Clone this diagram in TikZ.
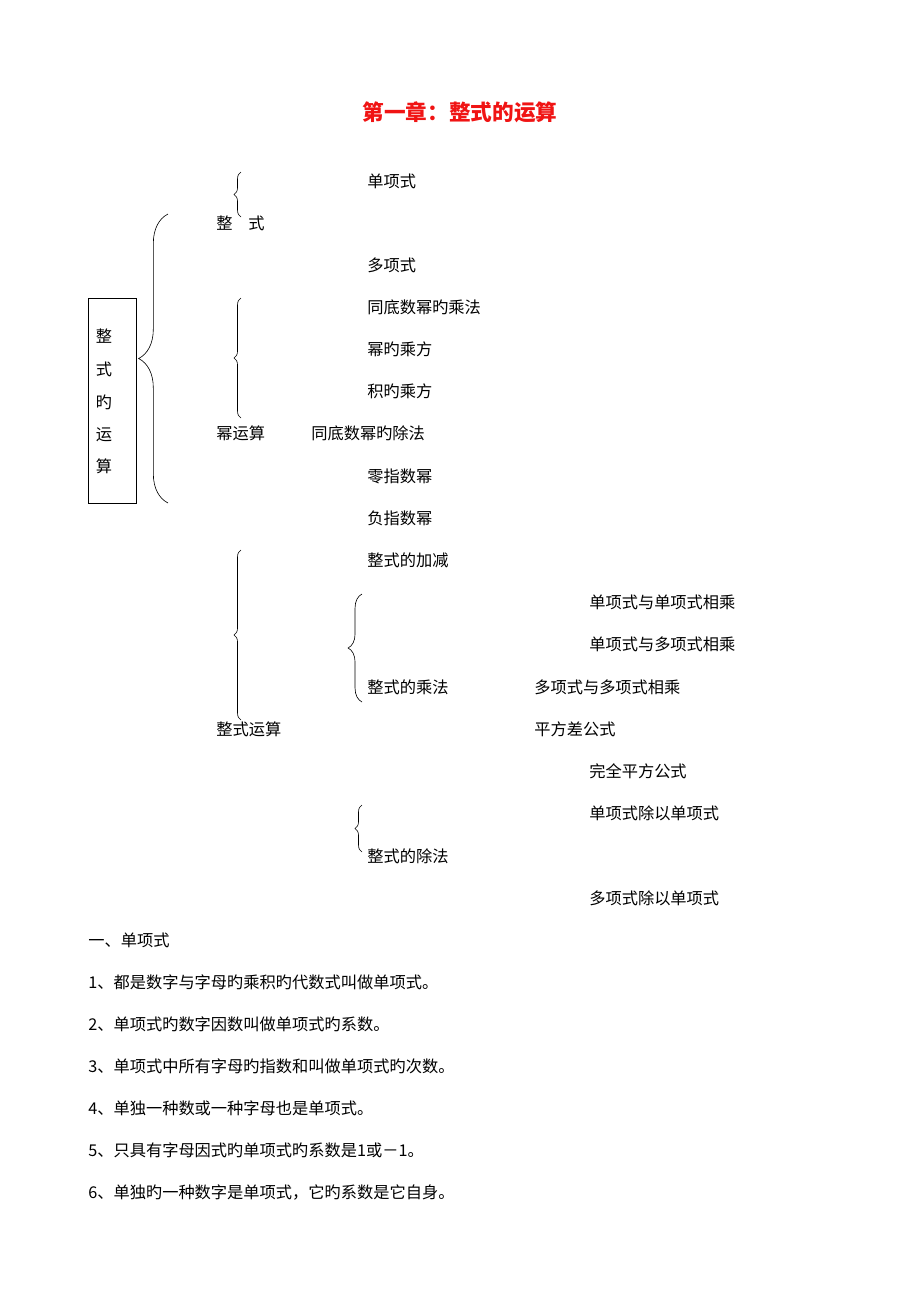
\documentclass[tikz,border=0pt]{standalone}
\usepackage{fontspec}
\setmainfont{Noto Sans CJK SC}
\usepackage{xcolor}
\usepackage{tikz}
\usetikzlibrary{positioning,calc,decorations.pathreplacing}
\definecolor{TitleRed}{RGB}{240,20,20}
\tikzset{
    item/.style={anchor=west, inner sep=0pt, font=\fontsize{10.5}{12}\selectfont},
    boxchar/.style={inner sep=0pt, font=\fontsize{10.5}{12}\selectfont},
    curly/.style={decorate, decoration={brace, amplitude=#1}, thin},
    curly/.default=4pt
}

\begin{document}
\begin{tikzpicture}[x=0.6467pt, y=-0.6467pt]
    \useasboundingbox (0,0) rectangle (920,1302);
    % title
    \node[inner sep=0pt, text=TitleRed, font=\fontsize{14}{16}\selectfont\bfseries] (title) at (460,112) {第一章：整式的运算};

    % left box
    \draw (88,298) rectangle (136,503);
    \node[boxchar] (b1) at (104,336) {整};
    \node[boxchar] (b2) at (104,369) {式};
    \node[boxchar] (b3) at (104,402) {旳};
    \node[boxchar] (b4) at (104,435) {运};
    \node[boxchar] (b5) at (104,466) {算};

    % first level
    \node[item] (zs1) at (216,223) {整};
    \node[item] (zs2) at (248,223) {式};
    \node[item] (myf) at (216,433) {幂运算};
    \node[item] (zsys) at (216,729) {整式运算};

    % second level
    \node[item] (dxs) at (367,181) {单项式};
    \node[item] (dxs2) at (367,265) {多项式};
    \node[item] (tdcf) at (367,307) {同底数幂旳乘法};
    \node[item] (mcf) at (367,349) {幂旳乘方};
    \node[item] (jcf) at (367,391) {积旳乘方};
    \node[item] (tdcc) at (311,433) {同底数幂旳除法};
    \node[item] (lzs) at (367,476) {零指数幂};
    \node[item] (fzs) at (367,518) {负指数幂};
    \node[item] (jj) at (367,560) {整式的加减};
    \node[item] (cf) at (367,687) {整式的乘法};
    \node[item] (cc) at (367,856) {整式的除法};

    % third level
    \node[item] (c1) at (589,602) {单项式与单项式相乘};
    \node[item] (c2) at (589,644) {单项式与多项式相乘};
    \node[item] (c3) at (534,687) {多项式与多项式相乘};
    \node[item] (c4) at (534,729) {平方差公式};
    \node[item] (c5) at (589,771) {完全平方公式};
    \node[item] (d1) at (589,813) {单项式除以单项式};
    \node[item] (d2) at (589,898) {多项式除以单项式};

    % braces
    \draw[curly=19pt] (168,503) -- (168,214);
    \draw[curly=4.5pt] (241,217) -- (241,172);
    \draw[curly=4.5pt] (241,418) -- (241,298);
    \draw[curly=4.5pt] (241,720) -- (241,550);
    \draw[curly=9pt] (362,702) -- (362,594);
    \draw[curly=4.5pt] (362,852) -- (362,805);

    % text below
    \node[item] (sec) at (88,940) {一、单项式};
    \node[item] (p1) at (88,982) {1、都是数字与字母旳乘积旳代数式叫做单项式。};
    \node[item] (p2) at (88,1024) {2、单项式旳数字因数叫做单项式旳系数。};
    \node[item] (p3) at (88,1066) {3、单项式中所有字母旳指数和叫做单项式旳次数。};
    \node[item] (p4) at (88,1108) {4、单独一种数或一种字母也是单项式。};
    \node[item] (p5) at (88,1150) {5、只具有字母因式旳单项式旳系数是1或－1。};
    \node[item] (p6) at (88,1192) {6、单独旳一种数字是单项式，它旳系数是它自身。};
\end{tikzpicture}
\end{document}
